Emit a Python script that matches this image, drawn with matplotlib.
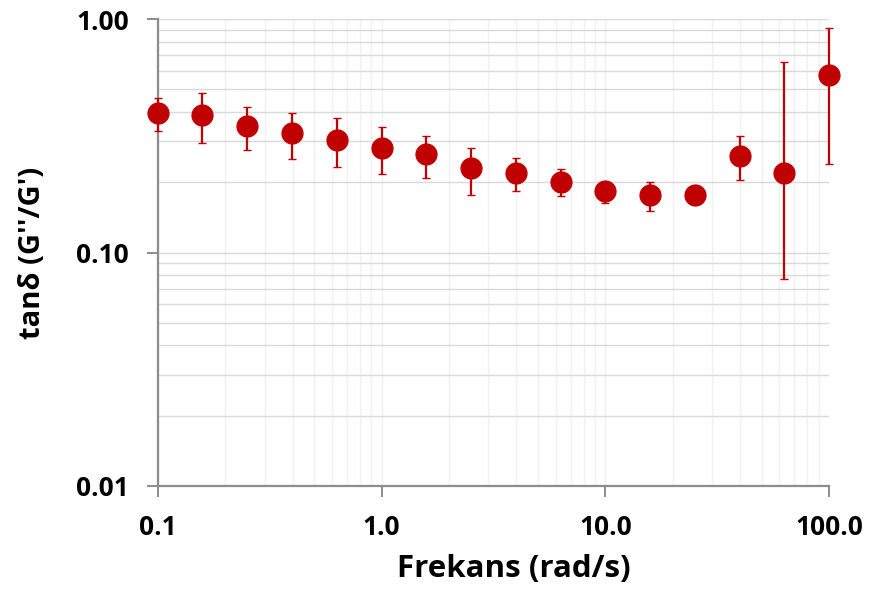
import matplotlib

matplotlib.use("Agg")

import matplotlib.pyplot as plt
from matplotlib.ticker import FixedLocator, FuncFormatter, LogLocator, NullFormatter

# frequency sweep (rad/s) and tan delta with error limits
frequency = [0.1, 0.158, 0.251, 0.398, 0.631, 1.0, 1.58, 2.51, 3.98, 6.31,
             10.0, 15.8, 25.1, 39.8, 63.1, 100.0]
tan_delta = [0.394, 0.389, 0.347, 0.324, 0.303, 0.281, 0.263, 0.229, 0.218, 0.201,
             0.183, 0.176, 0.176, 0.260, 0.218, 0.575]
upper = [0.457, 0.481, 0.419, 0.397, 0.376, 0.345, 0.316, 0.281, 0.253, 0.227,
         0.190, 0.200, 0.181, 0.315, 0.656, 0.912]
lower = [0.331, 0.295, 0.274, 0.251, 0.232, 0.216, 0.208, 0.176, 0.183, 0.175,
         0.163, 0.151, 0.171, 0.204, 0.0768, 0.239]

x_ticks = [0.1, 1.0, 10.0, 100.0]
y_ticks = [0.01, 0.10, 1.00]

RED = "#c00000"
FONT = ["Open Sans", "DejaVu Sans"]

plt.rcParams["font.family"] = FONT

fig = plt.figure(figsize=(8.73, 6.0), dpi=100)
ax = fig.add_axes([158 / 873, 1 - 486 / 600, (829 - 158) / 873, (486 - 19) / 600])

err_low = [v - lo for v, lo in zip(tan_delta, lower)]
err_high = [hi - v for v, hi in zip(tan_delta, upper)]
ax.errorbar(frequency, tan_delta, yerr=[err_low, err_high], fmt="o", color=RED,
            markersize=15, markeredgecolor=RED, markeredgewidth=1.0,
            elinewidth=1.6, capsize=2.6, capthick=2.2, zorder=3, clip_on=False)

ax.set_xscale("log")
ax.set_yscale("log")
ax.set_xlim(0.1, 100)
ax.set_ylim(0.01, 1.0)

ax.xaxis.set_major_locator(FixedLocator(x_ticks))
ax.yaxis.set_major_locator(FixedLocator(y_ticks))
ax.xaxis.set_minor_locator(LogLocator(base=10, subs=range(2, 10)))
ax.yaxis.set_minor_locator(LogLocator(base=10, subs=range(2, 10)))
ax.xaxis.set_minor_formatter(NullFormatter())
ax.yaxis.set_minor_formatter(NullFormatter())
ax.xaxis.set_major_formatter(FuncFormatter(lambda v, _: f"{v:.1f}"))
ax.yaxis.set_major_formatter(FuncFormatter(lambda v, _: f"{v:.2f}"))

ax.grid(True, axis="y", which="both", color="#d9d9d9", linewidth=1.0, zorder=0)
ax.grid(True, axis="x", which="both", color="#f0f0f0", linewidth=1.0, zorder=0)
ax.set_axisbelow(True)

for side in ("top", "right"):
    ax.spines[side].set_visible(False)
for side in ("left", "bottom"):
    ax.spines[side].set_color("#8c8c8c")
    ax.spines[side].set_linewidth(1.6)

ax.tick_params(which="major", length=8, width=1.4, color="#8c8c8c", labelsize=19)
ax.tick_params(which="minor", length=0)
ax.tick_params(axis="y", pad=13)
ax.tick_params(axis="x", pad=12)
for label in ax.get_xticklabels() + ax.get_yticklabels():
    label.set_fontweight("bold")

ax.set_xlabel("Frekans (rad/s)", fontsize=22.5, fontweight="bold")
ax.set_ylabel("tanδ (G''/G')", fontsize=21, fontweight="bold")
ax.xaxis.set_label_coords(0.53, -0.145)
ax.yaxis.set_label_coords(-0.165, 0.5)

fig.savefig("out.png", dpi=100, facecolor="white")
